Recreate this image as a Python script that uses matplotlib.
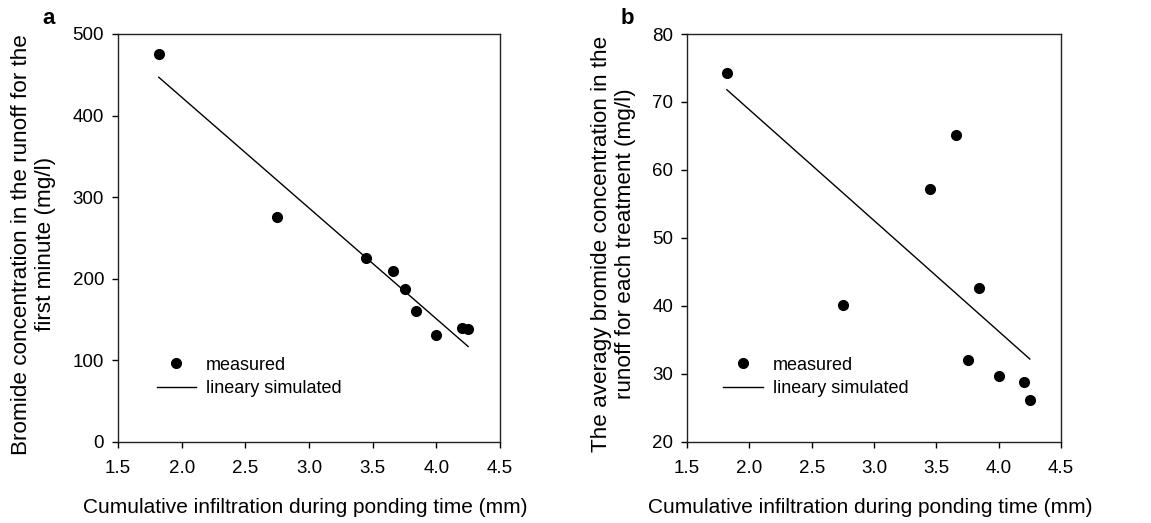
import matplotlib
matplotlib.use("Agg")
import matplotlib.pyplot as plt
from matplotlib.lines import Line2D

plt.rcParams['font.family'] = ['Liberation Sans', 'DejaVu Sans']

# Data
infiltration = [1.82, 2.75, 3.45, 3.66, 3.75, 3.84, 4.00, 4.20, 4.25]
bromide_first_minute = [475, 276, 226, 209, 187, 160, 131, 140, 139]
bromide_average = [74.2, 40.2, 57.2, 65.2, 32.1, 42.7, 29.7, 28.8, 26.2]

fit_x = [1.82, 4.25]
fit_a = [447, 117]
fit_b = [71.8, 32.2]

xticks = [1.5, 2.0, 2.5, 3.0, 3.5, 4.0, 4.5]
yticks_a = [0, 100, 200, 300, 400, 500]
yticks_b = [20, 30, 40, 50, 60, 70, 80]

xlabel = "Cumulative infiltration during ponding time (mm)"
ylabel_a = "Bromide concentration in the runoff for the\nfirst minute (mg/l)"
ylabel_b = "The averagy bromide concentration in the\nrunoff for each treatment (mg/l)"

W, H = 1151, 523
fig = plt.figure(figsize=(W / 100, H / 100), dpi=100)

ax_a = fig.add_axes([118 / W, (H - 442) / H, 382 / W, 408 / H])
ax_b = fig.add_axes([687 / W, (H - 442) / H, 374 / W, 408 / H])

fs = 13.5

def style(ax, y, fit_y, yticks, ylabel, letter, letter_x, leg_anchor, ylab_x):
    ax.plot(fit_x, fit_y, color='black', lw=1.0)
    ax.plot(infiltration, y, 'o', color='black', ms=7, zorder=3)
    ax.set_xlim(1.5, 4.5)
    ax.set_ylim(yticks[0], yticks[-1])
    ax.set_xticks(xticks)
    ax.set_xticklabels([f"{t:.1f}" for t in xticks])
    ax.set_yticks(yticks)
    ax.tick_params(direction='out', length=4, width=1, labelsize=fs, pad=6)
    ax.tick_params(axis='x', pad=9)
    for s in ax.spines.values():
        s.set_linewidth(1.0)
        s.set_color('#222222')
    ax.set_xlabel(xlabel, fontsize=15)
    ax.xaxis.set_label_coords(0.49, -0.137)
    ax.set_ylabel(ylabel, fontsize=16.2, linespacing=1.15)
    ax.yaxis.set_label_coords(ylab_x, 0.485)
    handles = [Line2D([], [], marker='o', ls='none', color='black', ms=7),
               Line2D([], [], color='black', lw=1.0)]
    ax.legend(handles, ['measured', 'lineary simulated'], loc='lower left',
              bbox_to_anchor=leg_anchor, frameon=False, fontsize=13,
              handlelength=2.2, handletextpad=0.55, labelspacing=0.35,
              borderaxespad=0)
    fig.text(letter_x / W, 1 - 18 / H, letter, fontsize=16, fontweight='bold',
             ha='center', va='center')

style(ax_a, bromide_first_minute, fit_a, yticks_a, ylabel_a, 'a', 49, (0.082, 0.093), -0.163)
style(ax_b, bromide_average, fit_b, yticks_b, ylabel_b, 'b', 627, (0.078, 0.093), -0.137)

fig.savefig("out.png", dpi=100)
